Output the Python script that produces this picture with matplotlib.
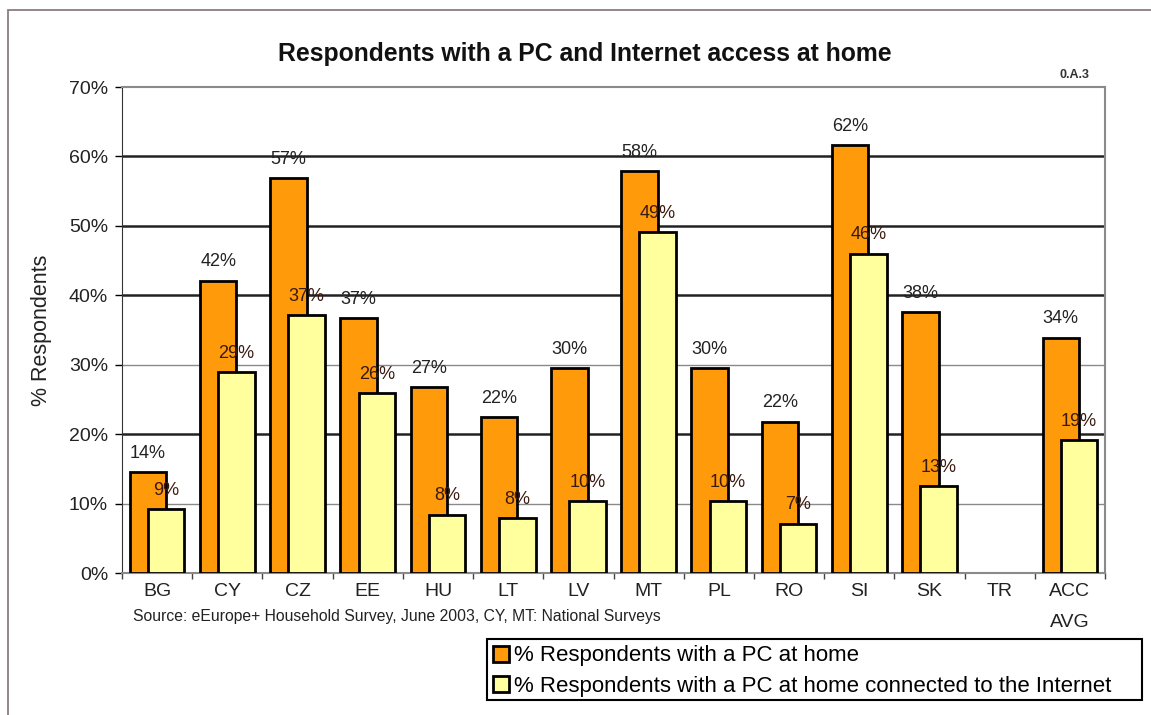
import matplotlib
matplotlib.use("Agg")
import matplotlib.pyplot as plt
import numpy as np
from matplotlib.patches import Rectangle
from matplotlib.lines import Line2D

plt.rcParams["font.family"] = ["Liberation Sans", "DejaVu Sans"]

countries = ["BG", "CY", "CZ", "EE", "HU", "LT", "LV", "MT", "PL", "RO",
             "SI", "SK", "TR", "ACC\nAVG"]
pc_home = [14.5, 42.1, 56.9, 36.7, 26.8, 22.4, 29.5, 57.9, 29.5, 21.8,
           61.6, 37.6, np.nan, 33.9]
pc_internet = [9.2, 28.9, 37.1, 25.9, 8.4, 7.9, 10.3, 49.1, 10.3, 7.1,
               46.0, 12.5, np.nan, 19.1]
pc_labels = ["14%", "42%", "57%", "37%", "27%", "22%", "30%", "58%", "30%",
             "22%", "62%", "38%", "", "34%"]
net_labels = ["9%", "29%", "37%", "26%", "8%", "8%", "10%", "49%", "10%",
              "7%", "46%", "13%", "", "19%"]
series_names = ["% Respondents with a PC at home",
                "% Respondents with a PC at home connected to the Internet"]

ORANGE = "#FF9A0A"
YELLOW = "#FFFF9E"
W, H = 1151, 715

fig = plt.figure(figsize=(W / 100, H / 100), dpi=100)
fig.patch.set_facecolor("white")

# outer chart frame
fig.add_artist(Rectangle((8 / W, -0.01), 1.0, 1 - 10 / H + 0.01,
                         transform=fig.transFigure, fill=False,
                         edgecolor="#8c7c84", lw=1.3))

ax = fig.add_axes([122 / W, 1 - 573 / H, (1105 - 122) / W, (573 - 87) / H])
x = np.arange(len(countries))
bw = 0.52
ax.bar(x - 0.13, pc_home, bw, color=ORANGE, edgecolor="black", lw=2, zorder=3)
ax.bar(x + 0.13, pc_internet, bw, color=YELLOW, edgecolor="black", lw=2, zorder=4)

for i in range(len(countries)):
    if pc_labels[i]:
        ax.text(x[i] - 0.13, pc_home[i] + 1.5, pc_labels[i], ha="center",
                va="bottom", fontsize=13, color="#222222", zorder=6)
    if net_labels[i]:
        ax.text(x[i] + 0.13, pc_internet[i] + 1.5, net_labels[i], ha="center",
                va="bottom", fontsize=13, color="#3a1a10", zorder=6)

ax.set_xlim(-0.5, len(countries) - 0.5)
ax.set_ylim(0, 70)
ax.set_yticks(range(0, 71, 10))
ax.set_yticklabels([f"{v}%" for v in range(0, 71, 10)], fontsize=14,
                   color="#222222")

# horizontal gridlines (alternating weight as in the scan)
for v in range(10, 70, 10):
    if v in (10, 30):
        ax.axhline(v, color="#8a8a8a", lw=1.0, zorder=1)
    else:
        ax.axhline(v, color="#222222", lw=1.8, zorder=1)

ax.set_xticks(x)
ax.set_xticklabels(countries, fontsize=14, color="#222222", linespacing=2.1)
ax.set_xticks(np.arange(-0.5, len(countries), 1), minor=True)
ax.tick_params(axis="x", which="major", length=0, pad=7)
ax.tick_params(axis="x", which="minor", length=4, width=1, color="#444444",
               direction="out")
ax.tick_params(axis="y", length=5, width=1, pad=5)

for side in ("top", "right"):
    ax.spines[side].set_color("#8a8a8a")
    ax.spines[side].set_linewidth(1.5)
ax.spines["left"].set_color("#333333")
ax.spines["bottom"].set_color("#8a8a8a")
ax.spines["bottom"].set_linewidth(1.5)

ax.set_ylabel("% Respondents", fontsize=15.5, labelpad=12, color="#222222")

fig.text(585 / W, 1 - 54 / H, "Respondents with a PC and Internet access at home",
         ha="center", va="center", fontsize=17.8, fontweight="bold",
         color="#111111")
fig.text(1090 / W, 1 - 75 / H, "0.A.3", ha="right", va="center", fontsize=9,
         fontweight="bold", color="#333333")
fig.text(397 / W, 1 - 616 / H,
         "Source: eEurope+ Household Survey, June 2003, CY, MT: National Surveys",
         ha="center", va="center", fontsize=11.3, color="#222222")

# legend: box drawn separately so it can be wider than its text
fig.add_artist(Rectangle((487 / W, 1 - 700 / H), (1142 - 487) / W, 61 / H,
                         transform=fig.transFigure, fill=False,
                         edgecolor="black", lw=1.5))
handles = [Line2D([], [], marker="s", ls="none", markersize=12,
                  markerfacecolor=c, markeredgecolor="black", markeredgewidth=2)
           for c in (ORANGE, YELLOW)]
fig.legend(handles, series_names, loc="upper left",
           bbox_to_anchor=(490 / W, 1 - 641 / H), fontsize=16,
           frameon=False, handlelength=0.6, handletextpad=0.3, borderpad=0.2,
           labelspacing=0.42, borderaxespad=0)

fig.savefig("out.png", dpi=100, facecolor="white")
